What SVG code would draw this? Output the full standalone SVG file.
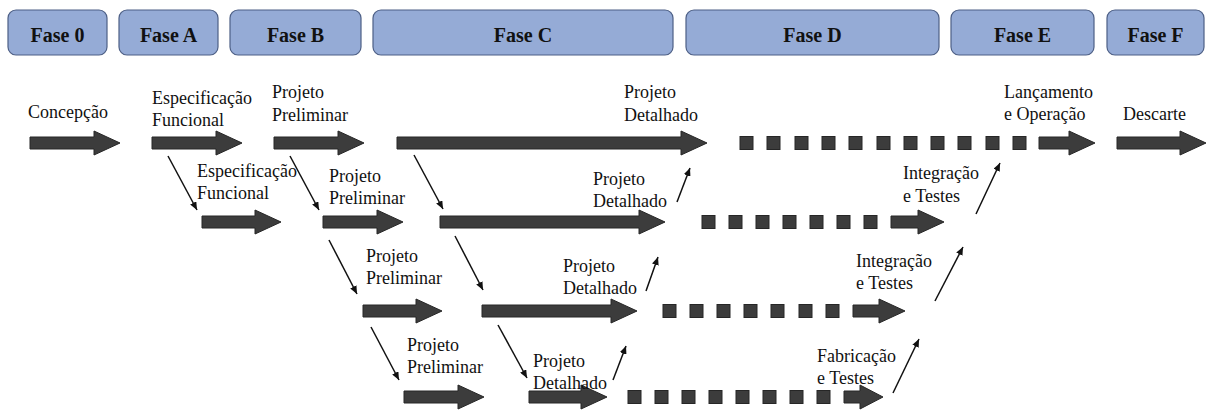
<svg xmlns="http://www.w3.org/2000/svg" width="1208" height="410" viewBox="0 0 1208 410">
  <style>
    .phase rect { fill: #95abd6; stroke: #4d5f85; stroke-width: 1.2; }
    .phase text { font-family: 'Liberation Serif', Tinos, 'DejaVu Serif', 'Noto Serif', serif; font-size: 20px; font-weight: bold; fill: #111; text-anchor: middle; }
    .blk { fill: #3c3c3c; stroke: #262626; stroke-width: 1; }
    .sq rect { fill: #3c3c3c; stroke: #262626; stroke-width: 1; }
    .lbl { font-family: 'Liberation Serif', Tinos, 'DejaVu Serif', 'Noto Serif', serif; font-size: 18px; fill: #111; }
    .link line { stroke: #111; stroke-width: 1.5; marker-end: url(#tip); }
  </style>
  <defs>
    <marker id="tip" markerUnits="userSpaceOnUse" markerWidth="9" markerHeight="7" refX="8" refY="3.5" orient="auto">
      <path d="M0,0 L8,3.5 L0,7 z" fill="#111"/>
    </marker>
  </defs>
  <rect width="1208" height="410" fill="#fff"/>

  <!-- phase header -->
  <g id="fase-0" class="phase"><rect x="8" y="10" width="99" height="45" rx="8"/><text x="57.5" y="42" font-family="Liberation Serif, serif">Fase 0</text></g>
  <g id="fase-a" class="phase"><rect x="119" y="10" width="99" height="45" rx="8"/><text x="168.5" y="42" font-family="Liberation Serif, serif">Fase A</text></g>
  <g id="fase-b" class="phase"><rect x="230" y="10" width="131" height="45" rx="8"/><text x="295.5" y="42" font-family="Liberation Serif, serif">Fase B</text></g>
  <g id="fase-c" class="phase"><rect x="373" y="10" width="300" height="45" rx="8"/><text x="523" y="42" font-family="Liberation Serif, serif">Fase C</text></g>
  <g id="fase-d" class="phase"><rect x="686" y="10" width="253" height="45" rx="8"/><text x="812.5" y="42" font-family="Liberation Serif, serif">Fase D</text></g>
  <g id="fase-e" class="phase"><rect x="951" y="10" width="143" height="45" rx="8"/><text x="1022.5" y="42" font-family="Liberation Serif, serif">Fase E</text></g>
  <g id="fase-f" class="phase"><rect x="1107" y="10" width="97" height="45" rx="8"/><text x="1155.5" y="42" font-family="Liberation Serif, serif">Fase F</text></g>

  <!-- level 1 -->
  <g id="concepcao">
    <polygon class="blk" points="30,137 94,137 94,131 120,143 94,155 94,149 30,149"/>
    <text class="lbl" x="28" y="118">Concepção</text>
  </g>
  <g id="espec-1">
    <polygon class="blk" points="152,137 216,137 216,131 242,143 216,155 216,149 152,149"/>
    <text class="lbl" x="152" y="104">Especificação</text>
    <text class="lbl" x="152" y="126">Funcional</text>
  </g>
  <g id="prelim-1">
    <polygon class="blk" points="274,137 338,137 338,131 364,143 338,155 338,149 274,149"/>
    <text class="lbl" x="272" y="98">Projeto</text>
    <text class="lbl" x="272" y="121">Preliminar</text>
  </g>
  <g id="detalhado-1">
    <polygon class="blk" points="397,137 681,137 681,131 707,143 681,155 681,149 397,149"/>
    <text class="lbl" x="624" y="98">Projeto</text>
    <text class="lbl" x="624" y="121">Detalhado</text>
  </g>
  <g id="lancamento">
    <g class="sq">
      <rect x="740" y="136.5" width="13" height="13"/><rect x="767" y="136.5" width="13" height="13"/>
      <rect x="795" y="136.5" width="13" height="13"/><rect x="822" y="136.5" width="13" height="13"/>
      <rect x="849" y="136.5" width="13" height="13"/><rect x="877" y="136.5" width="13" height="13"/>
      <rect x="904" y="136.5" width="13" height="13"/><rect x="931" y="136.5" width="13" height="13"/>
      <rect x="958" y="136.5" width="13" height="13"/><rect x="986" y="136.5" width="13" height="13"/>
      <rect x="1013" y="136.5" width="13" height="13"/>
    </g>
    <polygon class="blk" points="1039,137 1069,137 1069,131 1095,143 1069,155 1069,149 1039,149"/>
    <text class="lbl" x="1004" y="98">Lançamento</text>
    <text class="lbl" x="1004" y="120">e Operação</text>
  </g>
  <g id="descarte">
    <polygon class="blk" points="1117,137 1180,137 1180,131 1206,143 1180,155 1180,149 1117,149"/>
    <text class="lbl" x="1123" y="120">Descarte</text>
  </g>

  <!-- level 2 -->
  <g id="espec-2">
    <polygon class="blk" points="202,216 255,216 255,210 281,222 255,234 255,228 202,228"/>
    <text class="lbl" x="197" y="177">Especificação</text>
    <text class="lbl" x="197" y="199">Funcional</text>
  </g>
  <g id="prelim-2">
    <polygon class="blk" points="323,216 377,216 377,210 403,222 377,234 377,228 323,228"/>
    <text class="lbl" x="329" y="182">Projeto</text>
    <text class="lbl" x="329" y="204">Preliminar</text>
  </g>
  <g id="detalhado-2">
    <polygon class="blk" points="440,216 639,216 639,210 665,222 639,234 639,228 440,228"/>
    <text class="lbl" x="593" y="185">Projeto</text>
    <text class="lbl" x="593" y="207">Detalhado</text>
  </g>
  <g id="integracao-2">
    <g class="sq">
      <rect x="702" y="215.5" width="13" height="13"/><rect x="729" y="215.5" width="13" height="13"/>
      <rect x="756" y="215.5" width="13" height="13"/><rect x="783" y="215.5" width="13" height="13"/>
      <rect x="810" y="215.5" width="13" height="13"/><rect x="837" y="215.5" width="13" height="13"/>
      <rect x="864" y="215.5" width="13" height="13"/>
    </g>
    <polygon class="blk" points="891,216 918,216 918,210 944,222 918,234 918,228 891,228"/>
    <text class="lbl" x="903" y="179">Integração</text>
    <text class="lbl" x="903" y="202">e Testes</text>
  </g>

  <!-- level 3 -->
  <g id="prelim-3">
    <polygon class="blk" points="363,305 416,305 416,299 442,311 416,323 416,317 363,317"/>
    <text class="lbl" x="366" y="262">Projeto</text>
    <text class="lbl" x="366" y="284">Preliminar</text>
  </g>
  <g id="detalhado-3">
    <polygon class="blk" points="482,305 611,305 611,299 637,311 611,323 611,317 482,317"/>
    <text class="lbl" x="563" y="272">Projeto</text>
    <text class="lbl" x="563" y="294">Detalhado</text>
  </g>
  <g id="integracao-3">
    <g class="sq">
      <rect x="663" y="304.5" width="13" height="13"/><rect x="690" y="304.5" width="13" height="13"/>
      <rect x="717" y="304.5" width="13" height="13"/><rect x="744" y="304.5" width="13" height="13"/>
      <rect x="771" y="304.5" width="13" height="13"/><rect x="799" y="304.5" width="13" height="13"/>
      <rect x="826" y="304.5" width="13" height="13"/>
    </g>
    <polygon class="blk" points="853,305 879,305 879,299 905,311 879,323 879,317 853,317"/>
    <text class="lbl" x="856" y="267">Integração</text>
    <text class="lbl" x="856" y="289">e Testes</text>
  </g>

  <!-- level 4 -->
  <g id="prelim-4">
    <polygon class="blk" points="404,391 458,391 458,385 484,397 458,409 458,403 404,403"/>
    <text class="lbl" x="407" y="351">Projeto</text>
    <text class="lbl" x="407" y="373">Preliminar</text>
  </g>
  <g id="detalhado-4">
    <polygon class="blk" points="529,391 581,391 581,385 607,397 581,409 581,403 529,403"/>
    <text class="lbl" x="533" y="367">Projeto</text>
    <text class="lbl" x="533" y="389">Detalhado</text>
  </g>
  <g id="fabricacao">
    <g class="sq">
      <rect x="628" y="390.5" width="13" height="13"/><rect x="655" y="390.5" width="13" height="13"/>
      <rect x="682" y="390.5" width="13" height="13"/><rect x="709" y="390.5" width="13" height="13"/>
      <rect x="736" y="390.5" width="13" height="13"/><rect x="763" y="390.5" width="13" height="13"/>
      <rect x="790" y="390.5" width="13" height="13"/><rect x="817" y="390.5" width="13" height="13"/>
    </g>
    <polygon class="blk" points="844,391 860,391 860,385 883,397 860,409 860,403 844,403"/>
    <text class="lbl" x="817" y="362">Fabricação</text>
    <text class="lbl" x="817" y="384">e Testes</text>
  </g>

  <!-- connectors between levels -->
  <g id="connectors" class="link">
    <line x1="168" y1="156" x2="197" y2="210"/>
    <line x1="290" y1="156" x2="319" y2="210"/>
    <line x1="414" y1="155" x2="443" y2="209"/>
    <line x1="329" y1="240" x2="357" y2="294"/>
    <line x1="455" y1="236" x2="483" y2="290"/>
    <line x1="371" y1="327" x2="399" y2="380"/>
    <line x1="498" y1="325" x2="527" y2="378"/>
    <line x1="677" y1="202" x2="690" y2="168"/>
    <line x1="646" y1="291" x2="658" y2="257"/>
    <line x1="613" y1="380" x2="626" y2="346"/>
    <line x1="893" y1="393" x2="919" y2="339"/>
    <line x1="935" y1="301" x2="963" y2="247"/>
    <line x1="976" y1="214" x2="1000" y2="163"/>
  </g>
</svg>
